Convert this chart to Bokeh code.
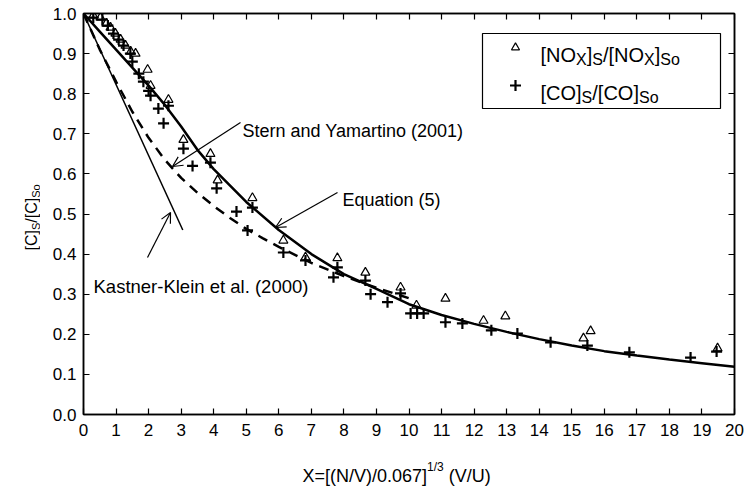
import math
from bokeh.plotting import figure
from bokeh.layouts import row, column
from bokeh.models import (Range1d, LinearAxis, FixedTicker, NumeralTickFormatter,
                          CustomJSTickFormatter, Label, Arrow, OpenHead)
from bokeh.embed import file_html
from bokeh.resources import INLINE

# ---------------- data ----------------
nox_x = [0.3, 0.52, 0.7, 0.83, 0.98, 1.14, 1.29, 1.45, 1.6, 1.97, 2.06, 2.61, 3.07, 3.9, 4.12,
         5.19, 6.14, 6.82, 7.8, 8.66, 9.74, 10.23, 11.12, 12.29, 12.96, 15.36, 15.58, 19.48]
nox_y = [0.995, 0.99, 0.975, 0.965, 0.95, 0.935, 0.92, 0.905, 0.9, 0.86, 0.82, 0.785, 0.685, 0.65, 0.584,
         0.54, 0.434, 0.392, 0.39, 0.354, 0.317, 0.272, 0.289, 0.234, 0.245, 0.19, 0.208, 0.165]

co_x = [0.3, 0.58, 0.75, 0.92, 1.08, 1.23, 1.44, 1.5, 1.7, 1.84, 2.0, 2.06, 2.3, 2.61, 2.46,
        3.07, 3.35, 3.9, 4.09, 4.7, 5.04, 5.19, 6.14, 6.82, 7.68, 7.8, 8.66, 8.82, 9.34, 9.74,
        10.05, 10.25, 10.45, 11.12, 11.64, 12.53, 13.33, 14.35, 15.48, 16.77, 18.65, 19.45]
co_y = [0.99, 0.985, 0.97, 0.95, 0.935, 0.92, 0.9, 0.88, 0.85, 0.83, 0.807, 0.795, 0.763, 0.77, 0.726,
        0.663, 0.62, 0.628, 0.564, 0.506, 0.459, 0.516, 0.404, 0.384, 0.342, 0.367, 0.334, 0.30, 0.28, 0.302,
        0.252, 0.252, 0.252, 0.23, 0.227, 0.21, 0.202, 0.18, 0.172, 0.155, 0.142, 0.157]

eq5_x = [0, 0.5, 1, 1.5, 2, 2.5, 3, 3.5, 4, 5, 6, 7, 8, 9, 10, 11, 12, 13, 14, 15, 16, 17, 18, 19, 20]
eq5_y = [1.0, 0.955, 0.91, 0.865, 0.82, 0.772, 0.718, 0.66, 0.612, 0.53, 0.46, 0.40, 0.35, 0.313, 0.275,
         0.248, 0.226, 0.206, 0.188, 0.172, 0.158, 0.147, 0.137, 0.128, 0.119]

sy_x = [0, 0.5, 1, 1.5, 2, 2.5, 3, 3.5, 4, 4.5, 5, 5.5, 6, 7, 8, 9, 10]
sy_y = [1.0, 0.91, 0.83, 0.755, 0.69, 0.635, 0.59, 0.553, 0.52, 0.49, 0.463, 0.44, 0.418, 0.378, 0.345, 0.316, 0.29]

kk_x = [0.0, 3.05]
kk_y = [1.0, 0.46]

x_ticks = list(range(0, 21))
y_ticks = [0.0, 0.1, 0.2, 0.3, 0.4, 0.5, 0.6, 0.7, 0.8, 0.9, 1.0]

# ---------------- layout ----------------
W, H = 746, 486
LW = 40          # left strip width (y title)
MH = 450         # main plot height
L, R, T, B = 83, 734, 13, 414   # frame in page pixels
FONT = "Liberation Sans"

def px2x(px):
    return (px - L) / (R - L) * 20.0

def py2y(py):
    return (B - py) / (B - T) * 1.0

AW = {' ': 278, '(': 333, ')': 333, '[': 278, ']': 278, '/': 278, '.': 278, '=': 584,
      'C': 722, 'N': 722, 'O': 778, 'S': 667, 'U': 722, 'V': 667, 'X': 667, 'o': 556}
for d in "0123456789":
    AW[d] = 556

def tw(s, size):
    return sum(AW.get(c, 556) for c in s) * size / 1000.0

p = figure(width=W - LW, height=MH, x_range=Range1d(0, 20), y_range=Range1d(0, 1),
           output_backend="svg", toolbar_location=None,
           min_border_left=L - LW, min_border_right=W - R, min_border_top=T,
           min_border_bottom=MH - B)
p.background_fill_color = "white"
p.border_fill_color = "white"
p.outline_line_color = "black"
p.outline_line_width = 1.5
p.xgrid.visible = False
p.ygrid.visible = False

def style_axis(ax):
    ax.axis_line_color = "black"
    ax.axis_line_width = 1.5
    ax.major_tick_line_color = "black"
    ax.major_tick_line_width = 1.2
    ax.major_tick_in = 6
    ax.major_tick_out = 0
    ax.minor_tick_line_color = None
    ax.major_label_text_font = FONT
    ax.major_label_text_font_size = "17px"
    ax.major_label_text_color = "black"

style_axis(p.xaxis[0])
style_axis(p.yaxis[0])
p.xaxis.ticker = FixedTicker(ticks=x_ticks)
p.yaxis.ticker = FixedTicker(ticks=y_ticks)
p.yaxis.formatter = NumeralTickFormatter(format="0.0")
p.xaxis.major_label_standoff = 9
p.yaxis.major_label_standoff = 7

blank = CustomJSTickFormatter(code="return '';")
top_ax = LinearAxis(ticker=FixedTicker(ticks=x_ticks), formatter=blank, major_label_standoff=0)
right_ax = LinearAxis(ticker=FixedTicker(ticks=y_ticks), formatter=blank, major_label_standoff=0)
style_axis(top_ax)
style_axis(right_ax)
p.add_layout(top_ax, "above")
p.add_layout(right_ax, "right")

# ---------------- curves ----------------
p.line(eq5_x, eq5_y, line_color="black", line_width=2.5)
p.line(sy_x, sy_y, line_color="black", line_width=2.5, line_dash="10 7")
p.line(kk_x, kk_y, line_color="black", line_width=1.5)

# ---------------- points ----------------
p.scatter(co_x, co_y, marker="cross", size=11, line_color="black", line_width=2.2)
p.scatter(nox_x, nox_y, marker="triangle", size=9, fill_color=None, line_color="black", line_width=1.2)

# ---------------- annotations ----------------
def label(fig, txt, x, y, size, angle=0.0):
    fig.add_layout(Label(x=x, y=y, text=txt, angle=angle,
                         text_font=FONT, text_font_size=f"{size}px", text_color="black",
                         text_align="left", text_baseline="alphabetic"))

def mlabel(txt, xpx, ypx, size):
    label(p, txt, px2x(xpx), py2y(ypx), size)

def rich(fig, conv, pieces, x0, y0, vertical=False):
    adv = 0.0
    for txt, size, shift in pieces:
        lead = len(txt) - len(txt.lstrip(" "))
        adv += tw(" " * lead, size)
        body = txt.lstrip(" ")
        if vertical:
            xx, yy = conv(x0 - shift, y0 - adv)
            label(fig, body, xx, yy, size, angle=math.pi / 2)
        else:
            xx, yy = conv(x0 + adv, y0 - shift)
            label(fig, body, xx, yy, size)
        adv += tw(body, size)

main_conv = lambda a, b: (px2x(a), py2y(b))
page_conv = lambda a, b: (a, b)

mlabel("Stern and Yamartino (2001)", 242, 130, 18)
mlabel("Equation (5)", 342, 199, 18)
mlabel("Kastner-Klein et al. (2000)", 93, 286, 18.5)

def arrow(x0, y0, x1, y1):
    p.add_layout(Arrow(end=OpenHead(size=10, line_width=1.2, line_color="black"),
                       x_start=px2x(x0), y_start=py2y(y0), x_end=px2x(x1), y_end=py2y(y1),
                       line_width=1.2, line_color="black"))

arrow(240, 122, 172, 166)
arrow(337, 192, 275, 227)
arrow(147, 257, 170, 212)

# legend
p.quad(left=[px2x(482)], right=[px2x(720)], top=[py2y(33)], bottom=[py2y(108)],
       fill_color="white", line_color="black", line_width=1.2)
p.scatter([px2x(515)], [py2y(47)], marker="triangle", size=8, fill_color=None,
          line_color="black", line_width=1.2)
p.scatter([px2x(515)], [py2y(85)], marker="cross", size=11, line_color="black", line_width=2.2)
rich(p, main_conv, [("[NO", 20, 0), ("X", 16, -5), ("]", 20, 0), ("S", 16, -5), ("/[NO", 20, 0),
                    ("X", 16, -5), ("]", 20, 0), ("So", 16, -5)], 540, 54)
rich(p, main_conv, [("[CO]", 20, 0), ("S", 16, -5), ("/[CO]", 20, 0), ("So", 16, -5)], 540, 92)

# ---------------- title strips ----------------
def strip(w, h, x0, x1, y0, y1):
    f = figure(width=w, height=h, x_range=Range1d(x0, x1), y_range=Range1d(y1, y0),
               x_axis_type=None, y_axis_type=None, output_backend="svg", toolbar_location=None,
               min_border=0, min_border_left=0, min_border_right=0, min_border_top=0,
               min_border_bottom=0)
    f.outline_line_color = None
    f.background_fill_color = "white"
    f.border_fill_color = "white"
    return f

left_strip = strip(LW, H, 0, LW, 0, H)
# the bottom strip's frame is aligned with the main frame (page x L..R)
bottom_strip = strip(W - LW, H - MH, L, R, MH, H)

rich(bottom_strip, page_conv, [("X=[(N/V)/0.067]", 18, 0), ("1/3", 12, 9), (" (V/U)", 18, 0)], 302, 475)
rich(left_strip, page_conv, [("[C]", 16, 0), ("S", 11, -4), ("/[C]", 16, 0), ("So", 11, -4)],
     31, 250, vertical=True)

layout = row(left_strip, column(p, bottom_strip, spacing=0), spacing=0)

open("out.html", "w").write(file_html(layout, INLINE))
